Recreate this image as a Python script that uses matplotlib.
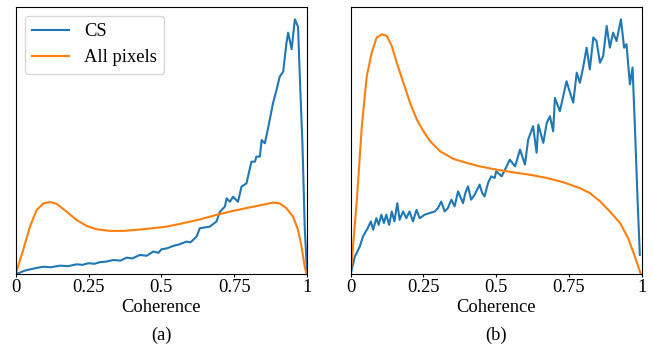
import matplotlib.pyplot as plt

plt.rcParams['font.family'] = ['Liberation Serif', 'DejaVu Serif']
plt.rcParams['font.size'] = 13.3

# (a) CS 曲线
a_cs_x = [0.0, 0.015, 0.03, 0.049, 0.07, 0.095, 0.12, 0.152, 0.18, 0.209, 0.23, 0.249,
          0.27, 0.289, 0.31, 0.335, 0.36, 0.381, 0.40, 0.426, 0.45, 0.472, 0.49, 0.5,
          0.52, 0.541, 0.56, 0.586, 0.60, 0.621, 0.632, 0.666, 0.689, 0.701, 0.718,
          0.724, 0.735, 0.746, 0.763, 0.775, 0.792, 0.809, 0.821, 0.826, 0.838, 0.844,
          0.855, 0.866, 0.883, 0.895, 0.906, 0.918, 0.929, 0.935, 0.947, 0.958, 0.969,
          0.975, 0.984, 0.992, 1.0]
a_cs_y = [0.0, 0.005, 0.012, 0.017, 0.022, 0.027, 0.025, 0.031, 0.029, 0.036, 0.034, 0.04,
          0.038, 0.044, 0.046, 0.052, 0.05, 0.061, 0.058, 0.071, 0.068, 0.084, 0.079, 0.092,
          0.096, 0.105, 0.11, 0.121, 0.118, 0.14, 0.171, 0.177, 0.196, 0.233, 0.252,
          0.283, 0.27, 0.289, 0.27, 0.327, 0.339, 0.42, 0.42, 0.439, 0.439, 0.501,
          0.489, 0.545, 0.639, 0.688, 0.738, 0.757, 0.863, 0.903, 0.841, 0.953, 0.925,
          0.738, 0.489, 0.171, 0.0]

# (a) 全部像素
a_all_x = [0.0, 0.026, 0.049, 0.072, 0.095, 0.118, 0.141, 0.175, 0.209, 0.243, 0.278,
           0.323, 0.369, 0.415, 0.461, 0.518, 0.575, 0.632, 0.689, 0.746, 0.803, 0.849,
           0.883, 0.906, 0.929, 0.952, 0.969, 0.981, 0.992, 0.998]
a_all_y = [0.0, 0.09, 0.177, 0.239, 0.264, 0.269, 0.262, 0.233, 0.202, 0.18, 0.167,
           0.161, 0.161, 0.165, 0.17, 0.177, 0.19, 0.204, 0.221, 0.236, 0.249, 0.259,
           0.267, 0.264, 0.246, 0.214, 0.165, 0.102, 0.027, 0.0]

# (b) CS 曲线
b_cs_x = [0.0, 0.014, 0.031, 0.042, 0.059, 0.069, 0.077, 0.088, 0.096, 0.105, 0.114,
          0.122, 0.132, 0.141, 0.15, 0.16, 0.168, 0.18, 0.191, 0.202, 0.214, 0.226,
          0.237, 0.254, 0.271, 0.289, 0.3, 0.311, 0.323, 0.334, 0.346, 0.357, 0.369,
          0.386, 0.394, 0.403, 0.414, 0.426, 0.443, 0.452, 0.46, 0.472, 0.483, 0.495,
          0.5, 0.519, 0.547, 0.565, 0.582, 0.599, 0.61, 0.627,
          0.639, 0.645, 0.662, 0.674, 0.685, 0.696, 0.702, 0.719, 0.742, 0.754, 0.765,
          0.777, 0.788, 0.799, 0.811, 0.822, 0.834, 0.845, 0.857, 0.868, 0.88, 0.891,
          0.902, 0.914, 0.929, 0.94, 0.948, 0.96, 0.969, 0.977, 0.986, 0.994]
b_cs_y = [0.0, 0.065, 0.102, 0.14, 0.172, 0.196, 0.165, 0.208, 0.183, 0.221, 0.19,
          0.221, 0.183, 0.233, 0.196, 0.264, 0.202, 0.233, 0.208, 0.233, 0.196, 0.239,
          0.208, 0.221, 0.227, 0.233, 0.246, 0.27, 0.233, 0.246, 0.277, 0.252, 0.308,
          0.264, 0.302, 0.327, 0.277, 0.296, 0.333, 0.302, 0.289, 0.339, 0.364, 0.358,
          0.383, 0.364, 0.426, 0.401, 0.464, 0.408, 0.501, 0.551,
          0.452, 0.557, 0.489, 0.564, 0.588, 0.532, 0.657, 0.607, 0.719, 0.676, 0.639,
          0.751, 0.713, 0.77, 0.844, 0.763, 0.882, 0.869, 0.788, 0.813, 0.925, 0.844,
          0.9, 0.869, 0.95, 0.844, 0.857, 0.707, 0.77, 0.551, 0.283, 0.071]

# (b) 全部像素
b_all_x = [0.0, 0.021, 0.038, 0.055, 0.072, 0.089, 0.107, 0.124, 0.141, 0.158, 0.181,
           0.204, 0.227, 0.25, 0.273, 0.307, 0.353, 0.399, 0.444, 0.502, 0.559, 0.616,
           0.674, 0.731, 0.788, 0.822, 0.857, 0.891, 0.926, 0.954, 0.977, 0.997]
b_all_y = [0.0, 0.277, 0.551, 0.738, 0.825, 0.882, 0.894, 0.888, 0.85, 0.788, 0.713,
           0.638, 0.576, 0.532, 0.495, 0.458, 0.429, 0.414, 0.401, 0.389, 0.379, 0.37,
           0.358, 0.342, 0.32, 0.302, 0.271, 0.233, 0.19, 0.133, 0.065, 0.0]

tick_vals = [0, 0.25, 0.5, 0.75, 1]
tick_labels = ['0', '0.25', '0.5', '0.75', '1']

fig = plt.figure(figsize=(6.52, 3.45), dpi=100)
ax_a = fig.add_axes([0.024, 0.206, 0.447, 0.775])
ax_b = fig.add_axes([0.538, 0.206, 0.446, 0.775])

panels = [
    (ax_a, a_cs_x, a_cs_y, a_all_x, a_all_y, '(a)'),
    (ax_b, b_cs_x, b_cs_y, b_all_x, b_all_y, '(b)'),
]

for ax, cx, cy, px, py, tag in panels:
    ax.plot(cx, cy, color='#1f77b4', lw=1.5, label='CS')
    ax.plot(px, py, color='#ff7f0e', lw=1.5, label='All pixels')
    ax.set_xlim(0, 1)
    ax.set_ylim(bottom=0)
    ax.set_yticks([])
    ax.set_xticks(tick_vals)
    ax.set_xticklabels(tick_labels)
    ax.tick_params(axis='x', length=2, pad=2)
    ax.set_xlabel('Coherence', labelpad=2)
    # 子图编号
    pos = ax.get_position()
    fig.text(pos.x0 + pos.width / 2, 0.027, tag, ha='center', va='center')

ax_a.legend(loc='upper left')

fig.savefig('out.png', dpi=100)
